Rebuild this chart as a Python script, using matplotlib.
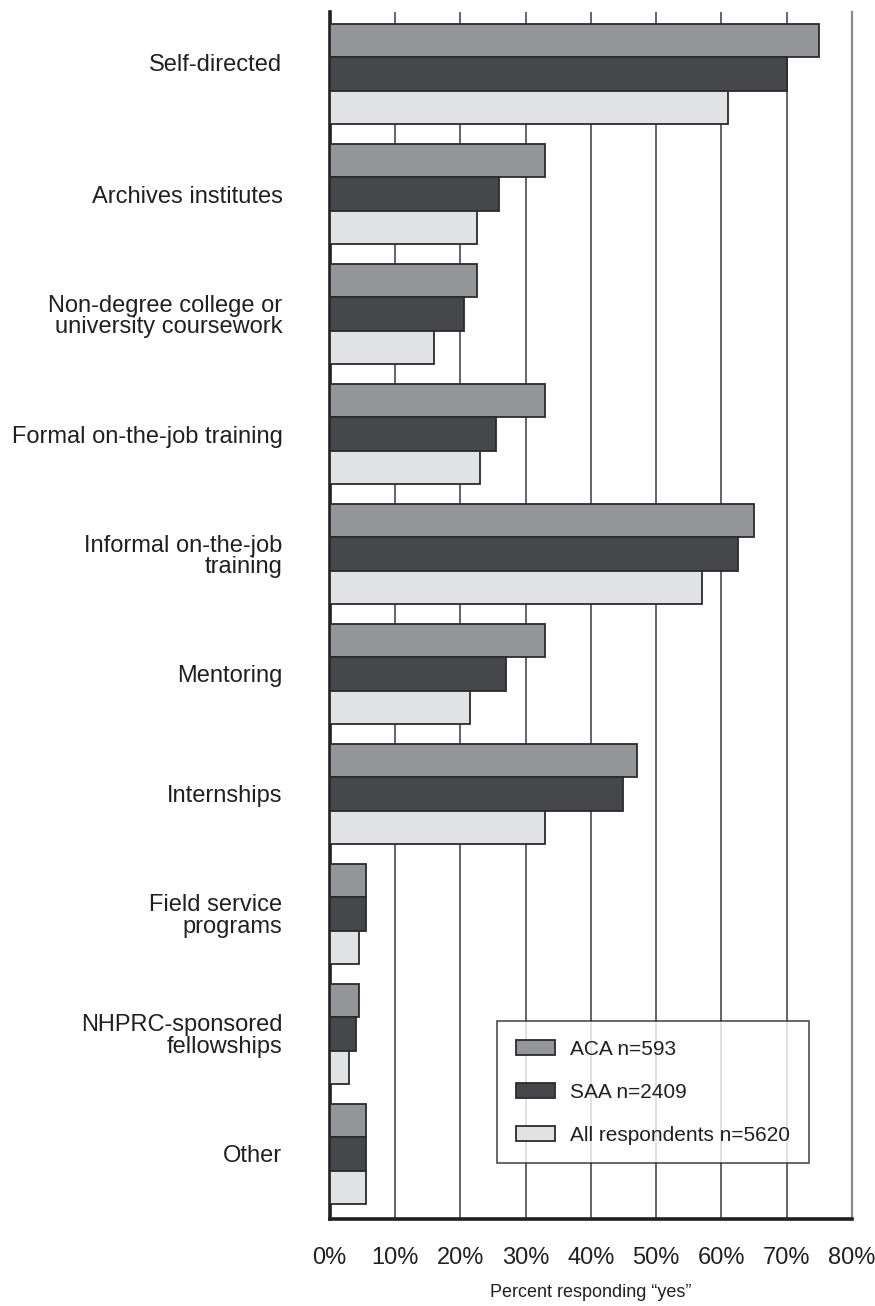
import matplotlib
matplotlib.use("Agg")
import matplotlib.pyplot as plt
import matplotlib.transforms as mtransforms
import numpy as np

plt.rcParams['font.family'] = ['Liberation Sans', 'DejaVu Sans']

categories = ["Self-directed", "Archives institutes", "Non-degree college or\nuniversity coursework",
              "Formal on-the-job training", "Informal on-the-job\ntraining", "Mentoring",
              "Internships", "Field service\nprograms", "NHPRC-sponsored\nfellowships", "Other"]
aca = [75, 33, 22.5, 33, 65, 33, 47, 5.5, 4.5, 5.5]
saa = [70, 26, 20.5, 25.5, 62.5, 27, 45, 5.5, 4, 5.5]
all_resp = [61, 22.5, 16, 23, 57, 21.5, 33, 4.5, 3, 5.5]
series_labels = ["ACA n=593", "SAA n=2409", "All respondents n=5620"]
xticks = [0, 10, 20, 30, 40, 50, 60, 70, 80]
xtick_labels = ["0%", "10%", "20%", "30%", "40%", "50%", "60%", "70%", "80%"]

W, H = 875, 1306
fig = plt.figure(figsize=(W / 100, H / 100), dpi=100)
ax = fig.add_axes([329.7 / W, 1 - 1219 / H, (852 - 329.7) / W, (1219 - 12) / H])

y = np.arange(len(categories))
h = 0.2775
colors = ["#939598", "#46474a", "#e1e2e4"]
edge = "#2b2b2d"
for k, vals in enumerate([aca, saa, all_resp]):
    ax.barh(y + (k - 1) * h, vals, height=h, color=colors[k], edgecolor=edge,
            linewidth=1.3, label=series_labels[k], zorder=3)

# vertical gridlines
for xv in xticks[1:-1]:
    ax.axvline(xv, color="#3a3a3a", linewidth=1.1, zorder=1)

ax.set_xlim(0, 80)
ax.set_ylim(9 + 0.542, -0.517)
ax.set_yticks(y)
ax.set_yticklabels(categories, fontsize=17, linespacing=0.95, color="#231f20")
ax.set_xticks(xticks)
ax.set_xticklabels(xtick_labels, fontsize=17, color="#231f20")
ax.tick_params(axis="y", length=0, pad=34)
ax.tick_params(axis="x", length=0, pad=20)

# the first label sits a little above its bars in the original
first = ax.get_yticklabels()[0]
first.set_transform(first.get_transform() + mtransforms.ScaledTranslation(0, 0.12, fig.dpi_scale_trans))

ax.spines["top"].set_visible(False)
ax.spines["left"].set_linewidth(2.6)
ax.spines["left"].set_color("#231f20")
ax.spines["bottom"].set_linewidth(2.6)
ax.spines["bottom"].set_color("#231f20")
ax.spines["right"].set_linewidth(1.6)
ax.spines["right"].set_color("#8a8a8a")

ax.set_xlabel("Percent responding \u201cyes\u201d", fontsize=13, color="#231f20", labelpad=11)

leg = ax.legend(loc="upper left", bbox_to_anchor=(497 / W, 1 - 1021 / H), bbox_transform=fig.transFigure,
                fontsize=15, frameon=True, fancybox=False, borderaxespad=0, borderpad=0.9,
                handlelength=1.9, handleheight=0.72, handletextpad=0.7, labelspacing=1.15)
leg.get_frame().set_edgecolor("#231f20")
leg.get_frame().set_linewidth(1.2)
for t in leg.get_texts():
    t.set_color("#231f20")

fig.savefig("out.png", dpi=100)
